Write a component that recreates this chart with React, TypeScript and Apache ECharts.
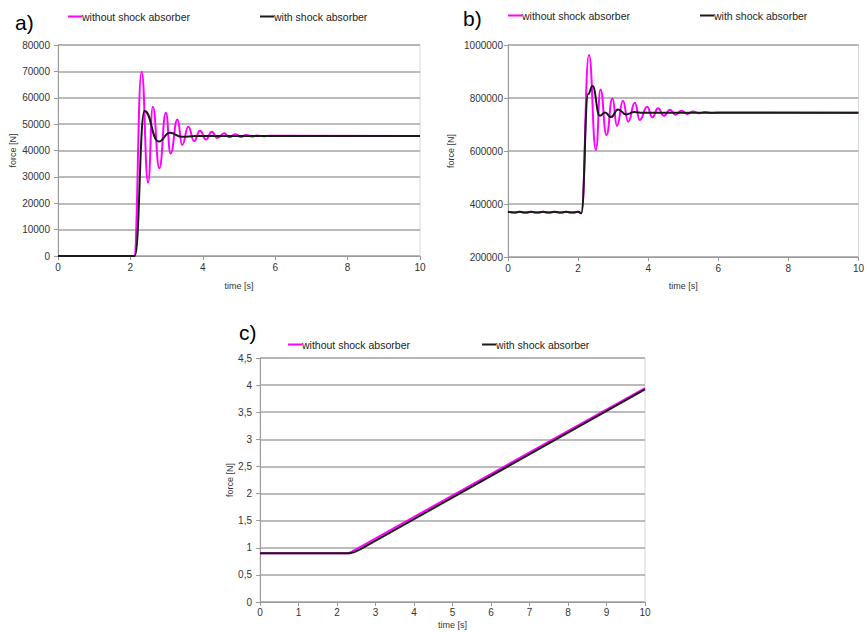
import React, { useEffect, useRef } from "react";
import * as echarts from "echarts";

const NAME_WITHOUT = "without shock absorber";
const NAME_WITH = "with shock absorber";

// Panel a) – force [N] vs time [s]
const aWithoutT = [0, 2.1, 2.31, 2.49, 2.62, 2.8, 2.98, 3.11, 3.3, 3.43, 3.6, 3.76, 3.92, 4.09, 4.25, 4.4, 4.59, 4.73, 4.9, 5.05, 5.2, 5.36, 5.5, 5.67, 5.85, 10];
const aWithoutF = [0, 0, 69900, 27800, 56600, 33300, 54300, 38900, 51800, 42100, 49000, 43600, 47500, 44200, 47100, 44700, 46500, 45000, 46200, 45150, 45900, 45300, 45700, 45400, 45550, 45500];
const aWithT = [0, 2.12, 2.39, 2.78, 3.09, 3.42, 3.8, 10];
const aWithF = [0, 0, 55000, 43400, 46700, 45200, 45500, 45500];

// Panel b)
const bWithoutT = [0, 0.17, 0.33, 0.5, 0.66, 0.83, 1.0, 1.16, 1.33, 1.5, 1.66, 1.83, 2.0, 2.09, 2.31, 2.51, 2.64, 2.81, 2.98, 3.11, 3.28, 3.43, 3.62, 3.76, 3.97, 4.12, 4.28, 4.45, 4.62, 4.78, 4.95, 5.12, 5.28, 5.45, 5.62, 5.8, 6.0, 10];
const bWithoutF = [370500, 367500, 370500, 367500, 370500, 367500, 370500, 367500, 370500, 367500, 370500, 367500, 370500, 365000, 962000, 603800, 832000, 660400, 798900, 694300, 789800, 710600, 782300, 717000, 767200, 727100, 761100, 733000, 756000, 737000, 752000, 740000, 749000, 742000, 747000, 743500, 745500, 744500];
const bWithT = [0, 0.17, 0.33, 0.5, 0.66, 0.83, 1.0, 1.16, 1.33, 1.5, 1.66, 1.83, 2.0, 2.09, 2.29, 2.41, 2.62, 2.77, 2.94, 3.14, 3.37, 3.6, 3.85, 10];
const bWithF = [370500, 367500, 370500, 367500, 370500, 367500, 370500, 367500, 370500, 367500, 370500, 367500, 370500, 365000, 815000, 845000, 733000, 745000, 728000, 757000, 738000, 747000, 744000, 744500];

// Panel c)
const cWithoutT = [0, 2.3, 2.4, 10];
const cWithoutF = [0.9, 0.9, 0.935, 3.945];
const cWithT = [0, 2.33, 2.45, 2.6, 10];
const cWithF = [0.9, 0.9, 0.92, 0.97, 3.92];

const PINK = "#ff00ff";
const BLACK = "#1a1a1a";
const FONT = "'Liberation Sans', Arial, sans-serif";

const pairs = (t: number[], f: number[]) => t.map((x, i) => [x, f[i]]);

export default function App() {
  const ref = useRef<HTMLDivElement>(null);

  useEffect(() => {
    if (!ref.current) return;
    const chart = echarts.init(ref.current, null, { renderer: "svg" });

    const grids = [
      { left: 58, right: 447, top: 45, bottom: 376 },
      { left: 508, right: 8, top: 45, bottom: 375 },
      { left: 260, right: 222, top: 358, bottom: 30 },
    ].map((g) => ({ ...g, show: true, borderColor: "#d6d6d6", borderWidth: 1, backgroundColor: "transparent" }));

    const axisLineStyle = { color: "#9a9a9a", width: 1 };
    const labelStyle = { color: "#333", fontSize: 10, fontFamily: FONT };
    const nameStyle = { color: "#333", fontSize: 9, fontFamily: FONT };

    const mkX = (gridIndex: number, interval: number, nameGap: number, labelMargin: number) => ({
      type: "value",
      gridIndex,
      min: 0,
      max: 10,
      interval,
      name: "time [s]",
      nameLocation: "middle",
      nameGap,
      nameTextStyle: nameStyle,
      axisLine: { show: true, lineStyle: axisLineStyle },
      axisTick: { show: true, length: 4, lineStyle: axisLineStyle },
      axisLabel: { ...labelStyle, margin: labelMargin },
      splitLine: { show: false },
    });

    const mkY = (
      gridIndex: number,
      min: number,
      max: number,
      interval: number,
      nameGap: number,
      labelMargin: number,
      formatter?: (v: number) => string
    ) => ({
      type: "value",
      gridIndex,
      min,
      max,
      interval,
      name: "force [N]",
      nameLocation: "middle",
      nameRotate: 90,
      nameGap,
      nameTextStyle: nameStyle,
      axisLine: { show: true, lineStyle: axisLineStyle },
      axisTick: { show: true, length: 4, lineStyle: axisLineStyle },
      axisLabel: { ...labelStyle, margin: labelMargin, formatter: formatter || ((v: number) => String(v)) },
      splitLine: { show: true, lineStyle: { color: "#a4a4a4", width: 1.6 } },
    });

    const mkSeries = (name: string, color: string, idx: number, t: number[], f: number[], smooth: number | boolean) => ({
      type: "line",
      name,
      xAxisIndex: idx,
      yAxisIndex: idx,
      data: pairs(t, f),
      showSymbol: false,
      symbol: "none",
      smooth,
      smoothMonotone: "x",
      lineStyle: { color, width: 2 },
      itemStyle: { color },
      z: color === BLACK ? 3 : 2,
    });

    const mkLegend = (left: number, top: number, gap: number) => ({
      left,
      top,
      data: [NAME_WITHOUT, NAME_WITH],
      icon: "rect",
      itemWidth: 14,
      itemHeight: 2,
      itemGap: gap,
      textStyle: { color: "#222", fontSize: 10.5, fontFamily: FONT, padding: [0, 0, 0, -5] },
      selectedMode: false,
    });

    chart.setOption({
      animation: false,
      backgroundColor: "#ffffff",
      grid: grids,
      xAxis: [mkX(0, 2, 25, 6), mkX(1, 2, 24, 6), mkX(2, 1, 18, 5)],
      yAxis: [
        mkY(0, 0, 80000, 10000, 41, 8),
        mkY(1, 200000, 1000000, 200000, 53, 5),
        mkY(2, 0, 4.5, 0.5, 23, 8, (v: number) => String(v).replace(".", ",")),
      ],
      legend: [mkLegend(63, 6, 70), mkLegend(503, 5, 70), mkLegend(283, 334, 72)],
      series: [
        mkSeries(NAME_WITHOUT, PINK, 0, aWithoutT, aWithoutF, 0.5),
        mkSeries(NAME_WITH, BLACK, 0, aWithT, aWithF, 0.5),
        mkSeries(NAME_WITHOUT, PINK, 1, bWithoutT, bWithoutF, 0.5),
        mkSeries(NAME_WITH, BLACK, 1, bWithT, bWithF, 0.5),
        mkSeries(NAME_WITHOUT, PINK, 2, cWithoutT, cWithoutF, false),
        mkSeries(NAME_WITH, BLACK, 2, cWithT, cWithF, false),
      ],
      graphic: [
        { type: "text", left: 15, top: 12, style: { text: "a)", fontSize: 21, fontFamily: FONT, fill: "#000" } },
        { type: "text", left: 463, top: 8, style: { text: "b)", fontSize: 21, fontFamily: FONT, fill: "#000" } },
        { type: "text", left: 239, top: 322, style: { text: "c)", fontSize: 21, fontFamily: FONT, fill: "#000" } },
      ],
    });

    return () => chart.dispose();
  }, []);

  return (
    <div
      ref={ref}
      style={{ position: "absolute", left: 0, top: 0, width: 867, height: 632, background: "#fff" }}
    />
  );
}
